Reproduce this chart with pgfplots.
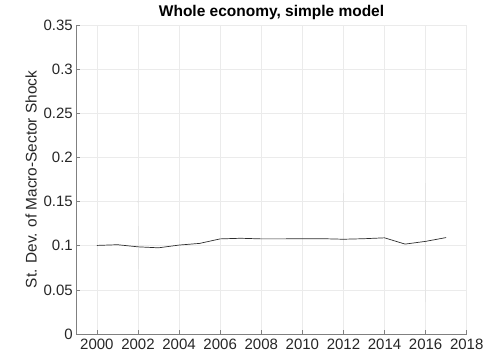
\documentclass[border=0pt]{standalone}
\usepackage{fontspec}
\setmainfont{Liberation Sans}
\usepackage{pgfplots}
\pgfplotsset{compat=1.18}
\definecolor{axgray}{RGB}{128,128,128}
\definecolor{txtgray}{RGB}{38,38,38}
\definecolor{gridgray}{RGB}{235,235,235}
\definecolor{faint}{RGB}{228,228,228}
\begin{document}
\begin{tikzpicture}
\begin{axis}[
  name=ax,
  scale only axis,
  width=390.6pt, height=309.3pt,
  xmin=1999, xmax=2018, ymin=0, ymax=0.35,
  xtick={2000,2002,...,2018},
  ytick={0,0.05,0.1,0.15,0.2,0.25,0.3,0.35},
  axis x line*=bottom, axis y line*=left,
  axis line style={axgray, line width=0.6pt},
  tick style={axgray, line width=0.6pt},
  major tick length=4pt,
  tick align=inside,
  grid=major,
  major grid style={gridgray, line width=0.6pt},
  tick label style={font=\fontsize{15}{16}\selectfont, text=txtgray},
  x tick label style={/pgf/number format/set thousands separator={}},
  y tick label style={/pgf/number format/fixed, /pgf/number format/precision=2},
  /pgf/number format/assume math mode=true,
  xticklabel style={yshift=-1pt},
  ylabel={St. Dev. of Macro-Sector Shock},
  ylabel style={font=\fontsize{15.4}{16}\selectfont, text=txtgray, yshift=0pt},
  title={\bfseries Whole economy, simple model},
  title style={font=\fontsize{15.5}{16}\selectfont, yshift=-4pt},
  clip=false,
]
\addplot[faint, line width=0.8pt] coordinates {(2002,0.0734) (2002,0.122)};
\addplot[faint, line width=0.8pt] coordinates {(2012,0.0508) (2012,0.160)};
\addplot[faint, line width=0.8pt] coordinates {(2016,0.0358) (2016,0.171)};
\addplot[only marks, mark=*, mark size=0.6pt, faint] coordinates {(2002,0.150) (2012,0.150) (2016,0.150)};
\addplot[color={rgb,255:red,45;green,45;blue,45}, line width=0.7pt] coordinates {
(2000,0.1004) (2001,0.1012) (2002,0.0988) (2003,0.0977) (2004,0.1008)
(2005,0.1027) (2006,0.1078) (2007,0.1085) (2008,0.1078) (2009,0.1078)
(2010,0.1080) (2011,0.1080) (2012,0.1074) (2013,0.1080) (2014,0.1090)
(2015,0.1019) (2016,0.1050) (2017,0.1093)};
\end{axis}
\path ([xshift=-76.4pt,yshift=-28.7pt]ax.south west) rectangle ([xshift=25.3pt,yshift=25pt]ax.north east);
\end{tikzpicture}
\end{document}
